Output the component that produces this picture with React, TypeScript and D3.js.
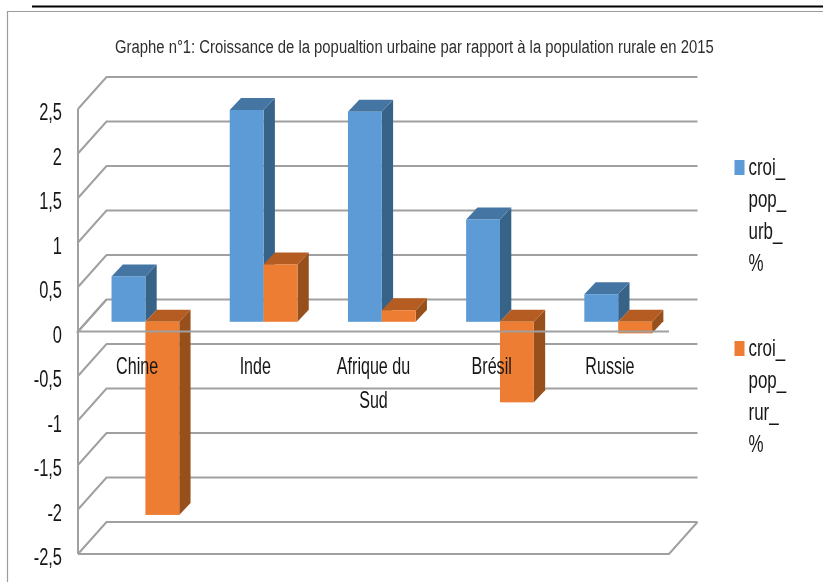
import React, { useEffect, useRef } from "react";
import * as d3 from "d3";

const title = "Graphe n°1: Croissance de la popualtion urbaine par rapport à la population rurale en 2015";
const categories = ["Chine", "Inde", "Afrique du Sud", "Brésil", "Russie"];
const categoryLines = [["Chine"], ["Inde"], ["Afrique du", "Sud"], ["Brésil"], ["Russie"]];
const urbanValues = [0.51, 2.38, 2.36, 1.15, 0.31];
const ruralValues = [-2.17, 0.645, 0.13, -0.905, -0.13];
const yTicks = [2.5, 2, 1.5, 1, 0.5, 0, -0.5, -1, -1.5, -2, -2.5];
const tickLabels = ["2,5", "2", "1,5", "1", "0,5", "0", "-0,5", "-1", "-1,5", "-2", "-2,5"];
const legendUrban = ["croi_", "pop_", "urb_", "%"];
const legendRural = ["croi_", "pop_", "rur_", "%"];

const FONT = "'Liberation Sans', Arial, sans-serif";
const GRID = "#a0a0a0";

export default function App() {
  const ref = useRef<SVGSVGElement>(null);
  useEffect(() => {
    const svg = d3.select(ref.current);
    svg.selectAll("*").remove();

    const defs = svg.append("defs");
    defs.append("filter").attr("id", "soft").append("feGaussianBlur").attr("stdDeviation", 0.4);
    const root = svg.append("g").attr("filter", "url(#soft)");

    // frame
    root.append("path").attr("d", "M7.5,582V11.5H823").attr("fill", "none").attr("stroke", "#9c9c9c").attr("stroke-width", 1.2);
    root.append("line").attr("x1", 32).attr("x2", 823).attr("y1", 6.5).attr("y2", 6.5).attr("stroke", "#000").attr("stroke-width", 2.2);

    const y = d3.scaleLinear().domain([-2.5, 2.5]).range([554, 109]);
    const band = d3.scaleBand<string>().domain(categories).range([78, 669]);
    const depthX = 28.5, depthY = -32;
    const barPlaneX = 8.3, barPlaneY = -9.7;
    const barDX = 11.3, barDY = -12;
    const barW = band.bandwidth() * 0.2865;

    const text = (g: any, s: string, x: number, yy: number, size: number, sx: number, anchor: string) =>
      g.append("text")
        .attr("transform", `translate(${x},${yy}) scale(${sx},1)`)
        .attr("text-anchor", anchor)
        .attr("font-family", FONT)
        .attr("font-size", size)
        .attr("fill", "#161616")
        .text(s);

    // title: squeezed horizontally to the reference's width
    const titleNode = text(root, title, 115, 53, 19, 1, "start").attr("fill", "#2e2e2e");
    const natural = (titleNode.node() as SVGTextElement).getComputedTextLength();
    titleNode.attr("transform", `translate(115,53) scale(${599 / natural},1)`);

    // back wall + left wall
    const grid = root.append("g").attr("fill", "none").attr("stroke", GRID).attr("stroke-width", 2);
    yTicks.forEach((t) => {
      const yy = y(t);
      grid.append("path").attr("d", d3.line()([
        [78, yy],
        [78 + depthX, yy + depthY],
        [669 + depthX, yy + depthY],
      ]) as string);
    });
    grid.append("line").attr("x1", 78).attr("x2", 78).attr("y1", y(2.5)).attr("y2", y(-2.5));
    // bottom floor
    grid.append("path").attr("d", d3.line()([
      [78, y(-2.5)],
      [669, y(-2.5)],
      [669 + depthX, y(-2.5) + depthY],
    ]) as string);

    // bars
    const drawBar = (x0: number, v: number, front: string, top: string, side: string) => {
      const yZero = y(0) + barPlaneY;
      const px = y(0) - y(v);
      const yTop = yZero - Math.max(px, 0);
      const yBottom = yZero + Math.max(-px, 0);
      const x1 = x0 + barW;
      const g = root.append("g");
      g.append("polygon").attr("fill", side).attr("points",
        [[x1, yTop], [x1 + barDX, yTop + barDY], [x1 + barDX, yBottom + barDY], [x1, yBottom]].join(" "));
      g.append("polygon").attr("fill", top).attr("points",
        [[x0, yTop], [x0 + barDX, yTop + barDY], [x1 + barDX, yTop + barDY], [x1, yTop]].join(" "));
      g.append("rect").attr("x", x0).attr("y", yTop).attr("width", barW).attr("height", yBottom - yTop).attr("fill", front);
    };
    categories.forEach((c, i) => {
      const mid = (band(c) as number) + band.bandwidth() / 2 + barPlaneX;
      drawBar(mid - barW, urbanValues[i], "#5b9bd5", "#4576a3", "#386389");
      drawBar(mid, ruralValues[i], "#ed7d31", "#b55c20", "#97501d");
    });

    // zero axis drawn over the bars
    root.append("path")
      .attr("d", d3.line()([[78 + depthX, y(0) + depthY], [78, y(0)], [669, y(0)]]) as string)
      .attr("fill", "none").attr("stroke", GRID).attr("stroke-width", 2);

    // y labels
    yTicks.forEach((t, i) => {
      text(root, tickLabels[i], 62, y(t) + 11, 23.5, 0.7, "end");
    });

    // category labels
    categories.forEach((c, i) => {
      const cx = (band(c) as number) + band.bandwidth() / 2;
      categoryLines[i].forEach((line, j) => {
        text(root, line, cx, 374 + j * 33.5, 23, 0.7, "middle");
      });
    });

    // legend
    const legend = (lines: string[], color: string, swatchY: number, baseY: number) => {
      root.append("rect").attr("x", 734.5).attr("y", swatchY).attr("width", 10).attr("height", 15).attr("fill", color);
      lines.forEach((l, j) => text(root, l, 748.5, baseY + j * 32, 23.5, 0.72, "start"));
    };
    legend(legendUrban, "#5b9bd5", 160, 175);
    legend(legendRural, "#ed7d31", 341, 356);
  }, []);

  return (
    <svg
      ref={ref}
      width={823}
      height={582}
      style={{ position: "fixed", left: 0, top: 0, background: "#fff" }}
    />
  );
}
